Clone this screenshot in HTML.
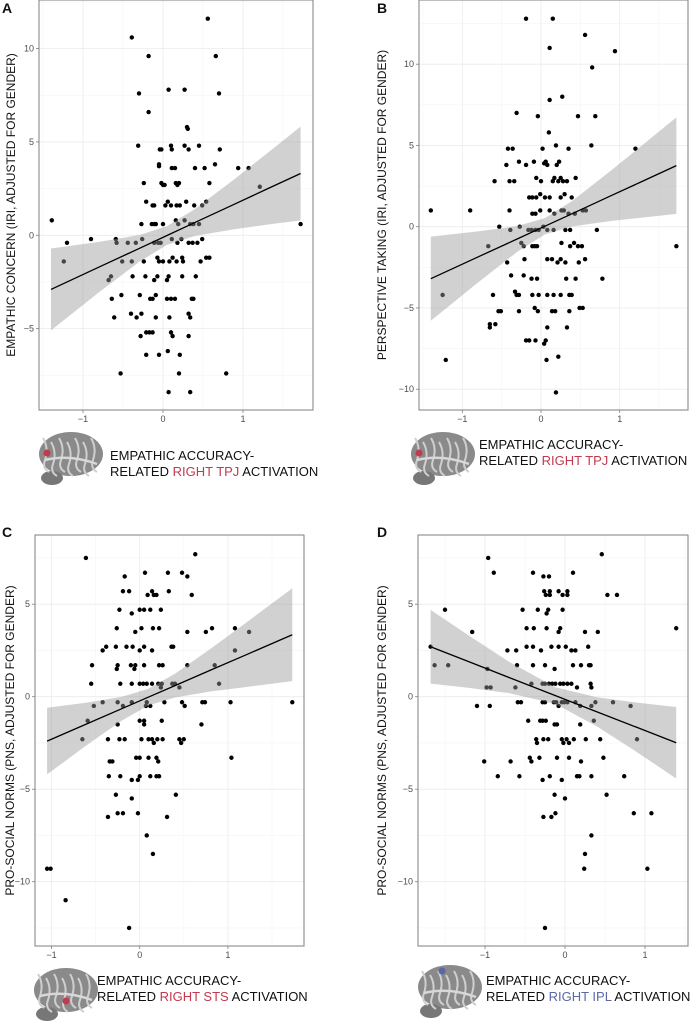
<!DOCTYPE html>
<html><head><meta charset="utf-8"><style>
html,body{margin:0;padding:0;background:#fff;width:690px;height:1021px;overflow:hidden}
svg{display:block;font-family:"Liberation Sans",Arial,sans-serif}
</style></head><body>
<svg id="fig" width="690" height="1021" viewBox="0 0 690 1021"></svg>
<script>
// ---------- DATA ----------
const xTicks=[-1,0,1];
const yTicksA=[-5,0,5,10];
const yTicksB=[-10,-5,0,5,10];
const yTicksC=[-10,-5,0,5];
const yTicksD=[-10,-5,0,5];

const aX=[0.56,-0.39,-0.18,0.66,0.07,0.27,-0.30,0.70,-0.18,0.30,0.31,-0.31,-0.04,-0.02,0.10,0.11,0.27,0.32,0.45,0.71,-0.05,-0.05,0.11,0.15,0.40,0.52,0.65,0.94,1.07,-0.24,-0.02,0,0.02,0.16,0.18,0.20,0.58,1.21,-0.21,-0.13,-0.11,0.03,0.06,0.10,0.17,0.21,0.29,0.39,0.49,0.54,-0.27,-0.14,-0.11,-0.09,0,0.16,0.19,0.27,0.34,0.38,0.45,-1.39,1.72,-1.20,-0.90,-0.59,-0.58,-0.44,-0.34,-0.26,-0.11,-0.06,-0.03,0.11,0.18,0.23,0.32,0.37,0.43,0.49,-1.24,-0.51,-0.39,-0.24,-0.07,-0.05,0,0.08,0.12,0.17,0.24,0.25,0.47,0.54,0.58,-0.68,-0.65,-0.38,-0.22,-0.11,-0.07,0.05,0.07,0.24,0.41,-0.64,-0.52,-0.29,-0.16,-0.13,-0.09,0.05,0.10,0.15,0.36,0.38,-0.61,-0.40,-0.33,-0.27,-0.09,0.08,0.32,0.34,-0.28,-0.21,-0.17,-0.13,0.10,0.12,0.32,-0.21,-0.05,0.06,0.21,-0.53,0.20,0.79,0.07,0.34];
const aY=[11.6,10.6,9.6,9.6,7.8,7.8,7.6,7.6,6.6,5.8,5.7,4.8,4.6,4.6,4.8,4.6,4.8,4.6,4.8,4.6,3.8,3.7,3.6,3.6,3.6,3.6,3.8,3.6,3.6,2.8,2.8,2.7,2.7,2.8,2.7,2.8,2.8,2.6,1.8,1.6,1.6,1.6,1.8,1.6,1.6,1.6,1.8,1.6,1.6,1.8,0.6,0.6,0.6,0.6,0.6,0.8,0.6,0.8,0.6,0.6,0.6,0.8,0.6,-0.4,-0.2,-0.2,-0.4,-0.4,-0.4,-0.2,-0.4,-0.4,-0.4,-0.2,-0.4,-0.2,-0.4,-0.4,-0.4,-0.2,-1.4,-1.4,-1.4,-1.4,-1.2,-1.4,-1.4,-1.4,-1.2,-1.4,-1.2,-1.4,-1.4,-1.2,-1.2,-2.4,-2.2,-2.2,-2.2,-2.4,-2.2,-2.4,-2.2,-2.2,-2.2,-3.4,-3.2,-3.2,-3.4,-3.4,-3.2,-3.4,-3.4,-3.4,-3.4,-3.4,-4.4,-4.2,-4.4,-4.2,-4.4,-4.4,-4.2,-4.4,-5.4,-5.2,-5.2,-5.2,-5.2,-5.4,-5.4,-6.4,-6.4,-6.2,-6.4,-7.4,-7.4,-7.4,-8.4,-8.4];
const aFitX=[-1.4,-0.8,-0.3,0.05,0.4,0.9,1.3,1.72];
const aFitY=[-2.9,-1.70,-0.71,-0.01,0.69,1.68,2.48,3.31];
const aLo=[-5.09,-3.05,-1.43,-0.51,-0.03,0.33,0.57,0.80];
const aHi=[-0.71,-0.35,0.01,0.49,1.41,3.03,4.39,5.82];

const bX=[-0.19,0.15,0.56,0.11,0.94,0.65,0.27,0.11,-0.31,-0.04,0.47,0.69,0.10,-0.42,-0.36,0.02,0.19,0.35,0.64,1.2,-0.44,-0.28,-0.19,-0.09,0.04,0.06,0.08,0.2,0.23,-0.59,-0.4,-0.34,-0.06,0,0.15,0.17,0.22,0.25,0.28,0.33,0.44,-0.15,-0.11,-0.06,-0.01,0.05,0.11,0.25,0.3,0.39,-1.4,-0.9,-0.4,-0.11,-0.07,-0.01,0.11,0.17,0.26,0.29,0.35,0.43,0.53,0.57,-0.53,-0.39,-0.27,-0.16,-0.12,-0.07,-0.03,0.03,0.08,0.16,0.31,0.37,0.71,-0.67,-0.25,-0.22,-0.11,-0.08,-0.05,0.26,0.37,0.42,0.47,0.52,1.72,-0.43,-0.21,0.08,0.14,0.21,0.25,0.31,0.48,0.56,-0.38,-0.22,-0.12,-0.05,0.32,0.44,0.78,-1.25,-0.61,-0.33,-0.31,-0.28,-0.11,-0.03,0.08,0.16,0.25,0.36,0.39,-0.54,-0.51,-0.28,-0.08,-0.04,0.14,0.18,0.36,0.49,0.53,-0.65,-0.65,-0.58,0.08,0.33,-0.19,-0.15,-0.07,0.04,0.06,-1.21,0.07,0.22,0.19];
const bY=[12.8,12.8,11.8,11.0,10.8,9.8,8.0,7.8,7.0,6.8,6.8,6.8,5.8,4.8,4.8,4.8,5.0,4.8,5.0,4.8,3.8,4.0,3.8,4.0,3.9,4.0,3.8,3.8,4.0,2.8,2.8,2.8,3.0,2.8,2.8,3.0,2.8,3.0,2.8,2.8,3.0,1.8,1.8,1.8,2.0,1.8,1.8,1.8,2.0,1.8,1.0,1.0,1.0,0.8,0.8,1.0,1.0,0.8,1.0,1.0,0.8,0.8,1.0,1.0,0,-0.2,0,-0.2,-0.2,-0.2,-0.2,0,-0.2,-0.2,-0.2,-0.2,-0.2,-1.2,-1.0,-1.2,-1.2,-1.2,-1.2,-1.0,-1.2,-1.0,-1.2,-1.2,-1.2,-2.2,-2.0,-2.0,-2.0,-2.2,-2.0,-2.2,-2.2,-2.0,-3.0,-3.0,-3.2,-3.2,-3.2,-3.2,-3.2,-4.2,-4.2,-4.0,-4.2,-4.2,-4.2,-4.2,-4.2,-4.2,-4.2,-4.2,-4.2,-5.2,-5.2,-5.2,-5.0,-5.2,-5.2,-5.2,-5.2,-5.0,-5.0,-6.0,-6.2,-6.0,-6.2,-6.2,-7.0,-7.0,-7.0,-7.2,-7.0,-8.2,-8.2,-8.0,-10.2];
const bFitX=[-1.4,-0.8,-0.3,0.05,0.4,0.9,1.3,1.72];
const bFitY=[-3.20,-1.86,-0.75,0.03,0.81,1.93,2.82,3.76];
const bLo=[-5.79,-3.43,-1.54,-0.47,0.02,0.36,0.57,0.79];
const bHi=[-0.61,-0.29,0.04,0.53,1.60,3.50,5.07,6.73];

const cX=[-0.61,0.63,0.06,0.32,0.48,-0.17,0.54,-0.19,-0.12,0.33,0.59,0.09,0.14,0.16,0.19,-0.23,0,0.05,0.12,0.24,-0.09,-0.26,0.02,0.15,0.22,0.54,0.75,0.82,1.08,1.24,-0.05,-0.38,-0.27,-0.15,-0.08,0.05,0.36,0.38,-0.42,0,0.14,1.08,-0.54,-0.25,-0.1,-0.05,0.05,0.22,0.26,0.54,0.85,-0.26,-0.06,-0.55,-0.22,-0.09,0,0.04,0.08,0.14,0.21,0.25,0.37,0.4,0.9,0.24,0.45,-0.59,-0.42,-0.52,-0.25,-0.19,-0.09,0.07,0.08,0.12,0.28,0.48,0.51,0.71,0.74,1.03,1.73,0,0.05,0.05,0.25,-0.25,0.7,-0.65,-0.36,-0.23,-0.17,0.02,0.1,0.14,0.16,0.2,0.26,0.45,0.47,0.5,-0.34,-0.31,-0.04,0,0.1,0.19,0.21,1.04,-0.35,-0.22,0,0.12,0.19,0.22,-0.09,-0.02,-0.27,0.41,-0.09,-0.25,-0.19,-0.02,-0.36,0.31,0.08,0.15,-1.05,-1.01,-0.84,-0.12];
const cY=[7.5,7.7,6.7,6.7,6.7,6.5,6.5,5.7,5.7,5.7,5.5,5.5,5.7,5.5,5.5,4.7,4.7,4.7,4.7,4.7,4.5,3.7,3.7,3.7,3.7,3.5,3.5,3.7,3.7,3.5,3.5,2.7,2.7,2.7,2.7,2.7,2.7,2.7,2.5,2.5,2.5,2.5,1.7,1.7,1.7,1.7,1.7,1.7,1.7,1.7,1.7,1.5,1.5,0.7,0.7,0.7,0.7,0.7,0.7,0.7,0.7,0.7,0.7,0.7,0.7,0.5,0.5,-1.3,-0.3,-0.5,-0.3,-0.5,-0.3,-0.5,-0.3,-0.5,-0.3,-0.3,-0.5,-0.3,-0.3,-0.3,-0.3,-1.3,-1.3,-1.5,-1.3,-1.5,-1.5,-2.3,-2.3,-2.3,-2.3,-2.3,-2.3,-2.3,-2.5,-2.3,-2.3,-2.3,-2.5,-2.3,-3.5,-3.5,-3.3,-3.3,-3.3,-3.3,-3.5,-3.3,-4.3,-4.3,-4.3,-4.3,-4.3,-4.3,-4.5,-4.5,-5.3,-5.3,-5.5,-6.3,-6.3,-6.3,-6.5,-6.5,-7.5,-8.5,-9.3,-9.3,-11.0,-12.5];
const cFitX=[-1.05,-0.6,-0.2,0.1,0.4,0.8,1.2,1.73];
const cFitY=[-2.40,-1.47,-0.64,-0.02,0.60,1.43,2.25,3.35];
const cLo=[-4.20,-2.62,-1.28,-0.47,-0.04,0.28,0.52,0.84];
const cHi=[-0.60,-0.32,0.00,0.43,1.24,2.58,3.98,5.86];

const dX=[-0.96,0.46,-0.89,-0.4,0.1,-0.27,-0.2,-0.26,-0.19,-0.08,0.03,-0.24,-0.19,-0.03,0.03,0.53,0.65,-1.5,-0.53,-0.34,-0.21,-0.03,-0.23,-0.48,-0.39,-0.23,-0.06,-0.08,0.25,0.41,-1.16,1.39,-1.68,-0.72,-0.61,-0.48,-0.4,-0.3,-0.17,-0.08,0.01,0.08,0.13,0.29,-1.63,-1.46,-0.6,-0.4,-0.25,0.1,0.2,0.3,0.32,-0.13,-0.97,-0.98,-0.93,-0.62,-0.42,-0.28,-0.25,-0.2,-0.16,-0.12,-0.06,-0.02,0.03,0.08,0.15,0.32,0.33,-1.1,-0.94,-0.59,-0.55,-0.28,-0.25,-0.14,-0.11,-0.08,-0.04,-0.01,0.03,0.13,0.19,0.33,0.38,0.6,0.82,-0.46,-0.31,-0.28,-0.24,-0.13,-0.1,0.19,0.36,-0.36,-0.35,-0.27,-0.21,-0.04,-0.02,0.02,0.05,0.11,0.26,0.44,0.9,-1.01,-0.68,-0.44,-0.42,-0.32,-0.1,0.05,0.2,0.48,-0.84,-0.57,-0.19,0.15,0.18,0.33,0.74,-0.28,-0.04,-0.13,0,0.52,-0.27,-0.17,-0.12,0.86,1.08,0.33,0.25,0.24,1.03,-0.25];
const dY=[7.5,7.7,6.7,6.7,6.7,6.5,6.5,5.7,5.7,5.7,5.7,5.5,5.5,5.5,5.5,5.5,5.5,4.7,4.7,4.7,4.7,4.7,4.5,3.7,3.7,3.7,3.7,3.5,3.5,3.5,3.5,3.7,2.7,2.5,2.5,2.7,2.7,2.5,2.7,2.7,2.7,2.5,2.5,2.7,1.7,1.7,1.7,1.7,1.7,1.7,1.7,1.7,1.7,1.5,1.5,0.5,0.5,0.5,0.7,0.7,0.7,0.7,0.7,0.7,0.7,0.7,0.7,0.7,0.5,0.7,0.5,-0.5,-0.5,-0.3,-0.3,-0.3,-0.3,-0.3,-0.3,-0.5,-0.3,-0.3,-0.3,-0.3,-0.5,-0.5,-0.3,-0.3,-0.5,-1.3,-1.3,-1.3,-1.3,-1.5,-1.5,-1.5,-1.3,-2.3,-2.5,-2.3,-2.3,-2.3,-2.5,-2.3,-2.5,-2.3,-2.3,-2.3,-2.3,-3.5,-3.5,-3.3,-3.5,-3.3,-3.3,-3.3,-3.5,-3.3,-4.3,-4.3,-4.3,-4.3,-4.3,-4.3,-4.3,-4.5,-4.5,-5.3,-5.5,-5.3,-6.5,-6.5,-6.3,-6.3,-6.3,-7.5,-8.5,-9.3,-9.3,-12.5];
const dFitX=[-1.68,-1.2,-0.7,-0.12,0.4,0.9,1.39];
const dFitY=[2.70,1.89,1.04,0.06,-0.82,-1.66,-2.49];
const dLo=[0.71,0.48,0.19,-0.39,-1.61,-3.00,-4.42];
const dHi=[4.69,3.30,1.89,0.51,-0.03,-0.32,-0.56];

// ---------- DRAWING ----------
const NS='http://www.w3.org/2000/svg';
const svg=document.getElementById('fig');
function mk(tag,attrs,parent,txt){const e=document.createElementNS(NS,tag);for(const k in attrs)e.setAttribute(k,attrs[k]);if(txt!==undefined)e.textContent=txt;(parent||svg).appendChild(e);return e;}
function fmt(v){return v<0?'\u2212'+Math.abs(v):String(v);}

function panel(cfg,xs,ys,fx,fy,lo,hi,yt){
  const g=mk('g',{});
  
  
  const X=v=>cfg.px0+cfg.sx*v, Y=v=>cfg.py0-cfg.sy*v;
  mk('rect',{x:cfg.x0,y:cfg.y0,width:cfg.x1-cfg.x0,height:cfg.y1-cfg.y0,fill:'#fff'},g);
  // minor grid
  const allx=[-2,-1,0,1,2];
  for(let i=0;i<allx.length-1;i++){const m=X((allx[i]+allx[i+1])/2);if(m>cfg.x0&&m<cfg.x1)mk('line',{x1:m,x2:m,y1:cfg.y0,y2:cfg.y1,stroke:'#f5f5f5','stroke-width':0.6},g);}
  const ally=[-15,-10,-5,0,5,10,15];
  for(let i=0;i<ally.length-1;i++){const m=Y((ally[i]+ally[i+1])/2);if(m>cfg.y0&&m<cfg.y1)mk('line',{x1:cfg.x0,x2:cfg.x1,y1:m,y2:m,stroke:'#f5f5f5','stroke-width':0.6},g);}
  // major grid + ticks
  xTicks.forEach(v=>{const p=X(v);
    const gl=mk('line',{x1:p,x2:p,y1:cfg.y0,y2:cfg.y1,stroke:'#ebebeb','stroke-width':0.8},g);
    
    
    mk('line',{x1:p,x2:p,y1:cfg.y1,y2:cfg.y1+3,stroke:'#7f7f7f','stroke-width':0.8},g);
    const t=mk('text',{x:p,y:cfg.y1+12,'text-anchor':'middle','font-size':9,fill:'#4d4d4d'},g,fmt(v));
    
    
  });
  yt.forEach(v=>{const p=Y(v);
    const gl=mk('line',{x1:cfg.x0,x2:cfg.x1,y1:p,y2:p,stroke:'#ebebeb','stroke-width':0.8},g);
    
    
    mk('line',{x1:cfg.x0-3,x2:cfg.x0,y1:p,y2:p,stroke:'#7f7f7f','stroke-width':0.8},g);
    const t=mk('text',{x:cfg.x0-5,y:p+3,'text-anchor':'end','font-size':9,fill:'#4d4d4d'},g,fmt(v));
    
    
  });
  // points
  for(let i=0;i<xs.length;i++){
    const c=mk('circle',{cx:X(xs[i]),cy:Y(ys[i]),r:2.2,fill:'#000'},g);
    
    
  }
  // confidence band
  let d='';
  for(let i=0;i<fx.length;i++)d+=(i?'L':'M')+X(fx[i])+','+Y(hi[i]);
  for(let i=fx.length-1;i>=0;i--)d+='L'+X(fx[i])+','+Y(lo[i]);
  const band=mk('path',{d:d+'Z',fill:'#999','fill-opacity':0.45,stroke:'none'},g);
  
  
  const pts=fx.map((v,i)=>X(v)+','+Y(fy[i])).join(' ');
  const ln=mk('polyline',{points:pts,fill:'none',stroke:'#000','stroke-width':1.3},g);
  
  
  // border
  mk('rect',{x:cfg.x0,y:cfg.y0,width:cfg.x1-cfg.x0,height:cfg.y1-cfg.y0,fill:'none',stroke:'#7f7f7f','stroke-width':1},g);
  // y title
  const cy=(cfg.y0+cfg.y1)/2;
  const yt2=mk('text',{x:cfg.ytx,y:cy,transform:'rotate(-90 '+cfg.ytx+' '+cy+')','text-anchor':'middle','font-size':12,fill:'#111'},g,cfg.ytitle);
  
  
  // panel letter
  const L=mk('text',{x:cfg.lx,y:cfg.ly,'font-size':14,'font-weight':'bold',fill:'#111'},g,cfg.id);
  
  
  // brain icon
  const b=mk('g',{},g);
  
  
  const bx=cfg.bx,by=cfg.by;
  mk('ellipse',{cx:bx+34,cy:by+24,rx:32,ry:22,fill:'#8a8a8a'},b);
  mk('ellipse',{cx:bx+15,cy:by+48,rx:11,ry:7,fill:'#777'},b);
  for(let k=0;k<7;k++)mk('path',{d:'M'+(bx+6+k*8)+','+(by+8+k%2*4)+' q6,10 2,22 q-3,8 4,12',fill:'none',stroke:'#cfcfcf','stroke-width':2},b);
  mk('path',{d:'M'+(bx+8)+','+(by+30)+' q25,-6 52,4',fill:'none',stroke:'#d8d8d8','stroke-width':2.5},b);
  mk('circle',{cx:bx+cfg.spotx,cy:by+cfg.spoty,r:3.5,fill:cfg.spotc},b);
  // x title
  const t1=mk('text',{x:cfg.tx,y:cfg.ty,'font-size':13,fill:'#111'},g,'EMPATHIC ACCURACY-');
  
  
  const t2=mk('text',{x:cfg.tx,y:cfg.ty+16,'font-size':13,fill:'#111'},g);
  
  
  mk('tspan',{},t2,'RELATED ');
  mk('tspan',{fill:cfg.spotc},t2,cfg.region);
  mk('tspan',{},t2,' ACTIVATION');
}
const red='#c23a4e',blue='#5a68a8';
panel({id:'A',x0:39,x1:313,y0:0,y1:410,px0:163,sx:80,py0:235.3,sy:18.67,ytx:15,lx:2,ly:13,ytitle:'EMPATHIC CONCERN (IRI, ADJUSTED FOR GENDER)',bx:37,by:430,spotx:10,spoty:23,spotc:red,tx:110,ty:460,region:'RIGHT TPJ'},aX,aY,aFitX,aFitY,aLo,aHi,yTicksA);
panel({id:'B',x0:419,x1:688,y0:0,y1:410,px0:541,sx:78.7,py0:226.7,sy:16.25,ytx:386,lx:377,ly:13,ytitle:'PERSPECTIVE TAKING (IRI, ADJUSTED FOR GENDER)',bx:409,by:430,spotx:10,spoty:23,spotc:red,tx:479,ty:449,region:'RIGHT TPJ'},bX,bY,bFitX,bFitY,bLo,bHi,yTicksB);
panel({id:'C',x0:35,x1:304,y0:535,y1:946,px0:139.7,sx:88.2,py0:696.7,sy:18.5,ytx:14,lx:2,ly:537,ytitle:'PRO-SOCIAL NORMS (PNS, ADJUSTED FOR GENDER)',bx:32,by:966,spotx:34,spoty:35,spotc:red,tx:97,ty:985,region:'RIGHT STS'},cX,cY,cFitX,cFitY,cLo,cHi,yTicksC);
panel({id:'D',x0:418,x1:688,y0:535,y1:946,px0:565,sx:80,py0:696.7,sy:18.5,ytx:386,lx:377,ly:537,ytitle:'PRO-SOCIAL NORMS (PNS, ADJUSTED FOR GENDER)',bx:416,by:963,spotx:26,spoty:8,spotc:blue,tx:486,ty:985,region:'RIGHT IPL'},dX,dY,dFitX,dFitY,dLo,dHi,yTicksD);
</script>
</body></html>
